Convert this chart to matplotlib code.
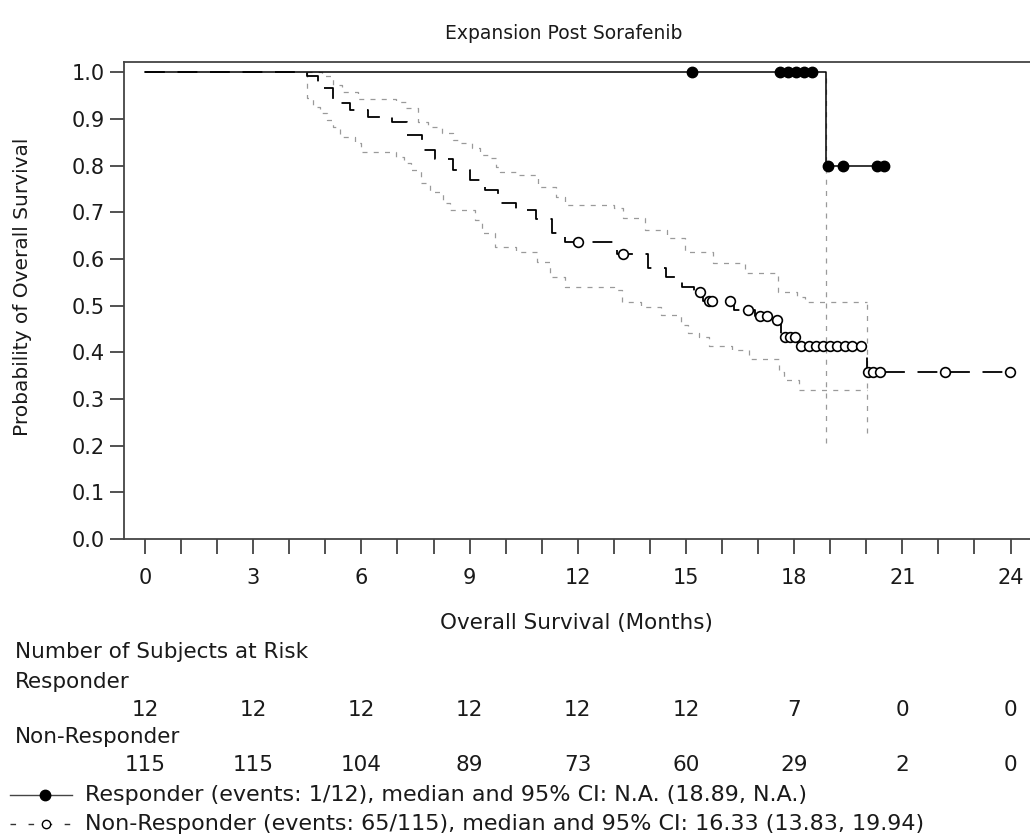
import numpy as np
import matplotlib
matplotlib.use("Agg")
import matplotlib.pyplot as plt
from matplotlib.lines import Line2D
from matplotlib.ticker import MultipleLocator, FormatStrFormatter
from matplotlib.transforms import blended_transform_factory

plt.rcParams["font.family"] = ["DejaVu Sans"]
FS = 15.5      # table / axis-label text
FS_LEG = 16
FS_TICK = 15
FS_YLAB = 14.5
FS_TITLE = 13.5
TXT = "#1a1a1a"
GRAY = "#9a9a9a"

# --- Responder (KM step, censor times) ---
resp_t = [0.0, 18.89]
resp_s = [1.0, 0.80]
resp_end = 20.50
resp_cens = [15.17, 17.60, 17.82, 18.05, 18.27, 18.50, 18.95, 19.35, 20.30, 20.50]
resp_ci_low = 0.206  # lower 95% CI after the event

# --- Non-Responder (KM step, censor times) ---
nr_t = [0.0, 4.49, 4.80, 5.21, 5.69, 6.18, 6.85, 7.27, 7.68, 8.04, 8.54, 9.01, 9.43,
        9.79, 10.29, 10.84, 11.29, 11.65, 13.09, 13.95, 14.45, 14.89, 15.22, 15.47,
        16.33, 16.92, 17.39, 17.64, 18.11, 20.02]
nr_s = [1.0, 0.992, 0.967, 0.934, 0.919, 0.904, 0.893, 0.866, 0.834, 0.814, 0.790, 0.769,
        0.748, 0.720, 0.705, 0.686, 0.656, 0.636, 0.610, 0.581, 0.561, 0.540, 0.529, 0.510,
        0.491, 0.478, 0.469, 0.433, 0.414, 0.358]
nr_end = 23.99
nr_cens = [12.00, 13.25, 15.39, 15.64, 15.72, 16.22, 16.72, 17.05, 17.25, 17.53, 17.75,
           17.89, 18.03, 18.20, 18.40, 18.60, 18.80, 19.00, 19.20, 19.40, 19.60, 19.85,
           20.05, 20.20, 20.38, 22.19, 23.99]

# Non-Responder 95% CI bands
nr_up_t = [4.49, 4.91, 5.21, 5.46, 5.91, 6.96, 7.24, 7.57, 7.85, 8.24, 8.54, 8.76, 9.07,
           9.29, 9.51, 9.73, 9.84, 10.29, 10.90, 11.40, 11.65, 13.01, 13.26, 13.87, 14.48,
           14.97, 15.75, 16.64, 17.55, 18.08, 18.30]
nr_up_v = [1.0, 0.991, 0.973, 0.958, 0.943, 0.936, 0.923, 0.893, 0.883, 0.870, 0.855, 0.848,
           0.838, 0.823, 0.816, 0.797, 0.786, 0.780, 0.754, 0.733, 0.716, 0.709, 0.688, 0.662,
           0.645, 0.615, 0.591, 0.570, 0.529, 0.519, 0.508]
nr_lo_t = [4.49, 4.50, 4.66, 4.85, 5.05, 5.21, 5.41, 5.82, 5.99, 6.96, 7.18, 7.38, 7.65,
           7.90, 8.26, 8.46, 9.15, 9.35, 9.71, 10.30, 10.87, 11.23, 11.65, 13.01, 13.23,
           13.75, 14.31, 14.86, 15.06, 15.36, 15.64, 16.28, 16.75, 17.58, 17.72, 18.14]
nr_lo_v = [1.0, 0.945, 0.926, 0.913, 0.898, 0.883, 0.861, 0.848, 0.829, 0.818, 0.806, 0.791,
           0.763, 0.744, 0.720, 0.705, 0.684, 0.656, 0.626, 0.615, 0.594, 0.561, 0.540, 0.534,
           0.508, 0.497, 0.480, 0.459, 0.441, 0.433, 0.414, 0.405, 0.386, 0.358, 0.341, 0.320]
nr_ci_end = 20.02
nr_ci_last_low = 0.227

# Number at risk
risk_times = [0, 3, 6, 9, 12, 15, 18, 21, 24]
risk_resp = [12, 12, 12, 12, 12, 12, 7, 0, 0]
risk_nr = [115, 115, 104, 89, 73, 60, 29, 2, 0]

title = "Expansion Post Sorafenib"
leg_resp = "Responder (events: 1/12), median and 95% CI: N.A. (18.89, N.A.)"
leg_nr = "Non-Responder (events: 65/115), median and 95% CI: 16.33 (13.83, 19.94)"


def km_at(times, surv, x):
    idx = np.searchsorted(times, x, side="right") - 1
    return np.asarray(surv)[idx]


fig = plt.figure(figsize=(10.30, 8.34), dpi=100)
ax = fig.add_axes([0.1204, 0.3537, 0.8796, 0.5714])

ci_kw = dict(color=GRAY, lw=0.9, dashes=(4, 5))

# CI bands
ax.step(nr_up_t + [nr_ci_end], nr_up_v + [nr_up_v[-1]], where="post", **ci_kw)
ax.step(nr_lo_t + [nr_ci_end], nr_lo_v + [nr_lo_v[-1]], where="post", **ci_kw)
ax.vlines(nr_ci_end, nr_ci_last_low, nr_up_v[-1], colors=GRAY, lw=0.9, linestyles=(0, (4, 5)))
ax.vlines(resp_t[-1], resp_ci_low, 1.0, colors=GRAY, lw=0.9, linestyles=(0, (4, 5)))

# Non-Responder curve
ax.step(nr_t + [nr_end], nr_s + [nr_s[-1]], where="post", color="black", lw=1.3,
        dashes=(11, 7))
ax.plot(nr_cens, km_at(nr_t, nr_s, nr_cens), ls="none", marker="o", ms=7,
        mfc="white", mec="black", mew=1.2)

# Responder curve
ax.step(resp_t + [resp_end], resp_s + [resp_s[-1]], where="post", color="black", lw=1.1)
ax.plot(resp_cens, km_at(resp_t, resp_s, resp_cens), ls="none", marker="o", ms=7.5,
        mfc="black", mec="black")

ax.set_xlim(-0.582, 24.54)
ax.set_ylim(0, 1.021)
ax.xaxis.set_major_locator(MultipleLocator(3))
ax.xaxis.set_minor_locator(MultipleLocator(1))
ax.yaxis.set_major_locator(MultipleLocator(0.1))
ax.yaxis.set_major_formatter(FormatStrFormatter("%.1f"))
ax.tick_params(axis="x", which="both", length=11, width=1.2, pad=10, labelsize=FS_TICK,
               colors="#333333", labelcolor=TXT)
ax.tick_params(axis="y", length=10, width=1.2, pad=4, labelsize=FS_TICK,
               colors="#333333", labelcolor=TXT)
for side in ("left", "bottom", "top"):
    ax.spines[side].set_color("#444444")
    ax.spines[side].set_linewidth(1.3)
ax.spines["right"].set_visible(False)

fig.text(0.547, 0.960, title, ha="center", va="center", fontsize=FS_TITLE, color=TXT)
fig.text(0.0214, 0.656, "Probability of Overall Survival", rotation=90, ha="center",
         va="center", fontsize=FS_YLAB, color=TXT)
fig.text(0.560, 0.253, "Overall Survival (Months)", ha="center", va="center",
         fontsize=FS, color=TXT)

# at-risk table
tr = blended_transform_factory(ax.transData, fig.transFigure)
fig.text(0.0146, 0.218, "Number of Subjects at Risk", ha="left", va="center", fontsize=FS, color=TXT)
fig.text(0.0146, 0.182, "Responder", ha="left", va="center", fontsize=FS, color=TXT)
fig.text(0.0146, 0.116, "Non-Responder", ha="left", va="center", fontsize=FS, color=TXT)
for t, r, n in zip(risk_times, risk_resp, risk_nr):
    ax.text(t, 0.149, str(r), transform=tr, ha="center", va="center", fontsize=FS, color=TXT)
    ax.text(t, 0.083, str(n), transform=tr, ha="center", va="center", fontsize=FS, color=TXT)

# legend rows
y1, y2 = 0.0468, 0.0120
fig.add_artist(Line2D([0.0097, 0.0700], [y1, y1], color="#444444", lw=1.0,
                      transform=fig.transFigure))
fig.add_artist(Line2D([0.0437], [y1], ls="none", marker="o", ms=7.5, mfc="black",
                      mec="black", transform=fig.transFigure))
fig.add_artist(Line2D([0.0097, 0.0680], [y2, y2], color="#333333", lw=1.0, dashes=(4, 9),
                      transform=fig.transFigure))
fig.add_artist(Line2D([0.0450], [y2], ls="none", marker="o", ms=6, mfc="white",
                      mec="black", mew=1.0, transform=fig.transFigure))
fig.text(0.0825, y1, leg_resp, ha="left", va="center", fontsize=FS_LEG, color=TXT)
fig.text(0.0825, y2, leg_nr, ha="left", va="center", fontsize=FS_LEG, color=TXT)

fig.savefig("out.png", dpi=100)
